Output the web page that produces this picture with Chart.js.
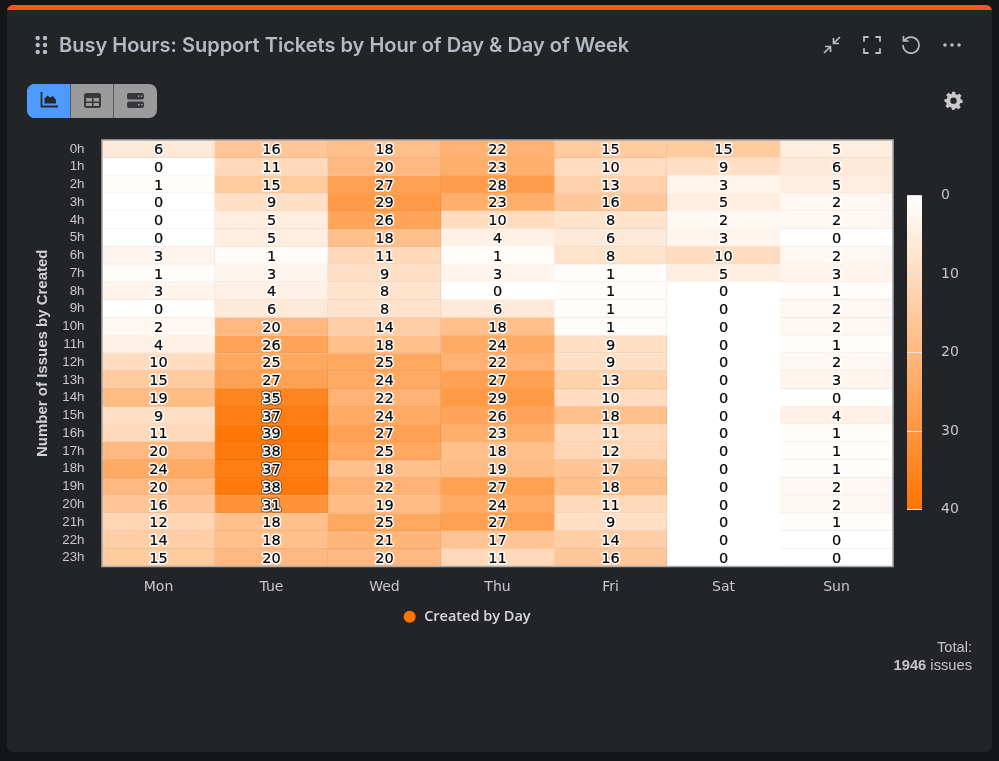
<!DOCTYPE html>
<html>
<head>
<meta charset="utf-8">
<title>Busy Hours</title>
<script src="https://cdn.jsdelivr.net/npm/chart.js@4"></script>
<style>
html, body { margin: 0; width: 999px; height: 761px; overflow: hidden; background: #141517; }
#card { position: absolute; left: 7px; top: 5px; width: 985px; height: 747px; background: #222428; border-radius: 6px; overflow: hidden; }
#topline { position: absolute; left: 0; top: 0; width: 100%; height: 5px; background: #ff5128; }
#heat { position: absolute; left: 0; top: 0; }
#scale { position: absolute; left: 880px; top: 168px; }
#title { position: absolute; left: 59px; top: 33px; font: 600 20px Inter, sans-serif; color: #b4bbc4; white-space: nowrap; }
#total { position: absolute; right: 27px; top: 639px; text-align: right; font: 14.7px/17.5px "Liberation Sans", sans-serif; color: #c6c6c6; }
svg { position: absolute; }
#btns { position: absolute; left: 27px; top: 84px; width: 130px; height: 34px; border-radius: 8px; overflow: hidden; background: #9b9b9b; }
#btns div { position: absolute; top: 0; height: 34px; }
</style>
</head>
<body>
<div id="card"><div id="topline"></div></div>
<canvas id="heat" width="999" height="761"></canvas>
<canvas id="scale" width="110" height="369"></canvas>

<!-- drag handle -->
<svg style="left:34px;top:36px" width="16" height="18" fill="#b4bbc4">
  <circle cx="3.7" cy="2" r="2.2"/><circle cx="11" cy="2" r="2.2"/>
  <circle cx="3.7" cy="9" r="2.2"/><circle cx="11" cy="9" r="2.2"/>
  <circle cx="3.7" cy="16" r="2.2"/><circle cx="11" cy="16" r="2.2"/>
</svg>
<div id="title">Busy Hours: Support Tickets by Hour of Day &amp; Day of Week</div>

<!-- panel actions -->
<svg style="left:822px;top:35px" width="20" height="20" fill="none" stroke="#b9bcbf" stroke-width="1.7">
  <path d="M2 18 L8.5 11.5 M3 11.5 H8.5 V17 M18 2 L11.5 8.5 M17 8.5 H11.5 V3"/>
</svg>
<svg style="left:862px;top:35px" width="20" height="20" fill="none" stroke="#b9bcbf" stroke-width="1.8" stroke-linecap="round">
  <path d="M2 6 V2 H6 M14 2 H18 V6 M18 14 V18 H14 M6 18 H2 V14"/>
</svg>
<svg style="left:901px;top:35px" width="20" height="20" fill="none" stroke="#b9bcbf" stroke-width="1.7" stroke-linecap="round">
  <path d="M3.5 5.5 A8 8 0 1 1 2 10.5 M2.5 1.5 V6 H7"/>
</svg>
<svg style="left:942px;top:42px" width="20" height="6" fill="#b9bcbf">
  <circle cx="3" cy="3" r="1.8"/><circle cx="10" cy="3" r="1.8"/><circle cx="17" cy="3" r="1.8"/>
</svg>

<!-- view switch -->
<div id="btns">
  <div style="left:0;width:43px;background:#4d9bfe"></div>
  <div style="left:43px;width:1px;background:#55575a"></div>
  <div style="left:86px;width:1px;background:#55575a"></div>
</div>
<svg style="left:40px;top:91px" width="19" height="19" fill="none" stroke="#26282c" stroke-width="1.8">
  <path d="M1.5 1 V15.5 H18"/>
  <path d="M4.5 12.5 V7.5 L7.5 4.5 L10 6.5 L13 5 L16 9 V12.5 Z" fill="#26282c" stroke="none"/>
</svg>
<svg style="left:83px;top:91px" width="19" height="19" fill="#36383b">
  <rect x="1" y="2" width="17" height="15" rx="2.5"/>
  <g fill="#9b9b9b"><rect x="3" y="7" width="6" height="3.5"/><rect x="10.5" y="7" width="5.5" height="3.5"/><rect x="3" y="12" width="6" height="3"/><rect x="10.5" y="12" width="5.5" height="3"/></g>
</svg>
<svg style="left:126px;top:91px" width="19" height="19" fill="#36383b">
  <rect x="1" y="2" width="17" height="6.5" rx="2"/><rect x="1" y="10.5" width="17" height="6.5" rx="2"/>
  <g fill="#9b9b9b"><rect x="12" y="4.5" width="1.5" height="1.5"/><rect x="15" y="4.5" width="1.5" height="1.5"/><rect x="12" y="13" width="1.5" height="1.5"/><rect x="15" y="13" width="1.5" height="1.5"/></g>
</svg>
<svg style="left:944px;top:91px" width="19" height="19" viewBox="0 0 24 24" fill="#c9c9c9">
  <path fill-rule="evenodd" d="M10 1h4l.6 3.1a8.3 8.3 0 0 1 2.2.9l2.6-1.8 2.8 2.8-1.8 2.6c.4.7.7 1.4.9 2.2L23.4 11v4l-3.1.6a8.3 8.3 0 0 1-.9 2.2l1.8 2.6-2.8 2.8-2.6-1.8a8.3 8.3 0 0 1-2.2.9L13 24h-3l-.6-3.1a8.3 8.3 0 0 1-2.2-.9l-2.6 1.8-2.8-2.8 1.8-2.6a8.3 8.3 0 0 1-.9-2.2L.6 13.6v-3.2l3.1-.6c.2-.8.5-1.5.9-2.2L2.8 5 5.6 2.2l2.6 1.8a8.3 8.3 0 0 1 2.2-.9zM12 8.2a4 4 0 1 0 0 8 4 4 0 0 0 0-8z"/>
</svg>

<div id="total">Total:<br><b>1946</b> issues</div>

<script>
"use strict";

var days = ["Mon", "Tue", "Wed", "Thu", "Fri", "Sat", "Sun"];
var hours = ["0h", "1h", "2h", "3h", "4h", "5h", "6h", "7h", "8h", "9h", "10h", "11h",
    "12h", "13h", "14h", "15h", "16h", "17h", "18h", "19h", "20h", "21h", "22h", "23h"];

var mon = [6, 0, 1, 0, 0, 0, 3, 1, 3, 0, 2, 4, 10, 15, 19, 9, 11, 20, 24, 20, 16, 12, 14, 15];
var tue = [16, 11, 15, 9, 5, 5, 1, 3, 4, 6, 20, 26, 25, 27, 35, 37, 39, 38, 37, 38, 31, 18, 18, 20];
var wed = [18, 20, 27, 29, 26, 18, 11, 9, 8, 8, 14, 18, 25, 24, 22, 24, 27, 25, 18, 22, 19, 25, 21, 20];
var thu = [22, 23, 28, 23, 10, 4, 1, 3, 0, 6, 18, 24, 22, 27, 29, 26, 23, 18, 19, 27, 24, 27, 17, 11];
var fri = [15, 10, 13, 16, 8, 6, 8, 1, 1, 1, 1, 9, 9, 13, 10, 18, 11, 12, 17, 18, 11, 9, 14, 16];
var sat = [15, 9, 3, 5, 2, 3, 10, 5, 0, 0, 0, 0, 0, 0, 0, 0, 0, 0, 0, 0, 0, 0, 0, 0];
var sun = [5, 6, 5, 2, 2, 0, 2, 3, 1, 2, 2, 1, 2, 3, 0, 4, 1, 1, 1, 2, 2, 1, 0, 0];
var dayValues = [mon, tue, wed, thu, fri, sat, sun];

var scaleTicks = [0, 10, 20, 30, 40];
var legendLabel = "Created by Day";
var axisTitle = "Number of Issues by Created";

var hot = [255, 115, 0];

function heatColor(v, shade) {
    var t = v / scaleTicks[scaleTicks.length - 1];
    var s = shade || 1;
    var r = 255 + (hot[0] - 255) * t;
    var g = 255 + (hot[1] - 255) * t;
    var b = 255 + (hot[2] - 255) * t;
    return "rgb(" + Math.round(r * s) + "," + Math.round(g * s) + "," + Math.round(b * s) + ")";
}

// white under the cells, so the seams between rows do not show the dark card
var plotBack = {
    id: "plotBack",
    beforeDatasetsDraw: function(chart) {
        var a = chart.chartArea;
        chart.ctx.fillStyle = "#fff";
        chart.ctx.fillRect(a.left, a.top, a.width, a.height);
    }
};

var cellLabels = {
    id: "cellLabels",
    afterDatasetsDraw: function(chart) {
        var c = chart.ctx;
        var a = chart.chartArea;
        c.save();
        c.strokeStyle = "#a9a9a9";
        c.lineWidth = 1.5;
        c.strokeRect(a.left, a.top, a.width, a.height);
        c.font = "14.5px 'DejaVu Sans'";
        c.textAlign = "center";
        c.textBaseline = "middle";
        c.lineJoin = "round";
        dayValues.forEach(function(values, i) {
            chart.getDatasetMeta(i).data.forEach(function(bar, j) {
                var p = bar.getCenterPoint();
                var y = p.y + 1.5;
                if (values[j] > 30) {
                    c.strokeStyle = "rgba(60,40,30,.65)";
                    c.lineWidth = 5;
                    c.strokeText(values[j], p.x, y);
                }
                c.strokeStyle = "#fff";
                c.lineWidth = 3.2;
                c.strokeText(values[j], p.x, y);
                c.fillStyle = "#000";
                c.fillText(values[j], p.x, y);
                c.strokeStyle = "#000";
                c.lineWidth = 0.2;
                c.strokeText(values[j], p.x, y);
            });
        });
        c.restore();
    }
};

// the legend sits a little left of the plot centre in the original
var legendShift = {
    id: "legendShift",
    afterLayout: function(chart) {
        chart.legend.left += 3;
        chart.legend.right += 3;
        chart.legend.top -= 1;
        chart.legend.bottom -= 1;
    }
};

var heatChart = new Chart(document.getElementById("heat"), {
    type: "bar",
    plugins: [plotBack, cellLabels, legendShift],
    data: {
        labels: hours,
        datasets: days.map(function(d, i) {
            return {
                label: d,
                data: hours.map(function() { return [i, i + 1]; }),
                backgroundColor: dayValues[i].map(function(v) { return heatColor(v); }),
                borderColor: dayValues[i].map(function(v) { return heatColor(v, 0.93); }),
                // Thu and Sat show no cell edges in the original
                borderWidth: (d === "Thu" || d === "Sat") ? 0 : { right: 1, bottom: 1 },
                borderSkipped: false,
                grouped: false,
                barPercentage: 1,
                categoryPercentage: 1
            };
        })
    },
    options: {
        indexAxis: "y",
        responsive: false,
        animation: false,
        layout: { padding: { left: 34, right: 106, top: 140, bottom: 126 } },
        scales: {
            x: {
                type: "linear",
                min: 0,
                max: days.length,
                grid: { display: false },
                border: { display: false },
                afterFit: function(s) { s.height = 34; },
                afterBuildTicks: function(s) {
                    s.ticks = days.map(function(d, i) { return { value: i + 0.5 }; });
                },
                ticks: {
                    autoSkip: false,
                    maxRotation: 0,
                    padding: 4,
                    color: "#c8c8c8",
                    font: { family: "'DejaVu Sans'", size: 14 },
                    callback: function(v) { return days[v - 0.5]; }
                }
            },
            y: {
                grid: { display: false },
                border: { display: false },
                afterFit: function(s) { s.width = 68; },
                title: {
                    display: true,
                    text: axisTitle,
                    color: "#d2d2d2",
                    padding: 0,
                    font: { family: "'Liberation Sans'", size: 15, weight: "bold" }
                },
                ticks: {
                    autoSkip: false,
                    padding: 9.5,
                    color: "#c8c8c8",
                    font: { family: "'Liberation Sans'", size: 13.3 }
                }
            }
        },
        plugins: {
            tooltip: { enabled: false },
            legend: {
                position: "bottom",
                labels: {
                    usePointStyle: true,
                    boxHeight: 8.5,
                    padding: 10,
                    color: "#d8d8d8",
                    font: { family: "'Open Sans'", size: 14.5, weight: "600" },
                    generateLabels: function() {
                        return [{ text: legendLabel, fillStyle: "rgb(255,115,0)", strokeStyle: "rgb(255,115,0)", fontColor: "#d8d8d8", pointStyle: "circle", lineWidth: 0 }];
                    }
                }
            }
        }
    }
});

var scaleChart = new Chart(document.getElementById("scale"), {
    type: "bar",
    data: {
        labels: [legendLabel],
        datasets: [{
            data: [[scaleTicks[0], scaleTicks[scaleTicks.length - 1]]],
            barPercentage: 1,
            categoryPercentage: 1,
            backgroundColor: function(ctx) {
                var area = ctx.chart.chartArea;
                if (!area) return heatColor(0);
                var g = ctx.chart.ctx.createLinearGradient(0, area.top, 0, area.bottom);
                g.addColorStop(0, heatColor(scaleTicks[0]));
                g.addColorStop(1, heatColor(scaleTicks[scaleTicks.length - 1]));
                return g;
            }
        }]
    },
    options: {
        responsive: false,
        animation: false,
        layout: { padding: { left: 27, top: 0, bottom: 0, right: 0 } },
        scales: {
            x: { display: false },
            y: {
                position: "right",
                reverse: true,
                min: scaleTicks[0],
                max: scaleTicks[scaleTicks.length - 1],
                afterFit: function(s) { s.width = 68; },
                afterBuildTicks: function(s) {
                    s.ticks = scaleTicks.map(function(v) { return { value: v }; });
                },
                grid: { z: 1, color: "#e2e2e2", lineWidth: 1, drawTicks: false },
                border: { display: false },
                ticks: {
                    padding: 19,
                    color: "#c8c8c8",
                    font: { family: "'DejaVu Sans'", size: 14 }
                }
            }
        },
        plugins: { legend: { display: false }, tooltip: { enabled: false } }
    }
});
</script>
</body>
</html>
